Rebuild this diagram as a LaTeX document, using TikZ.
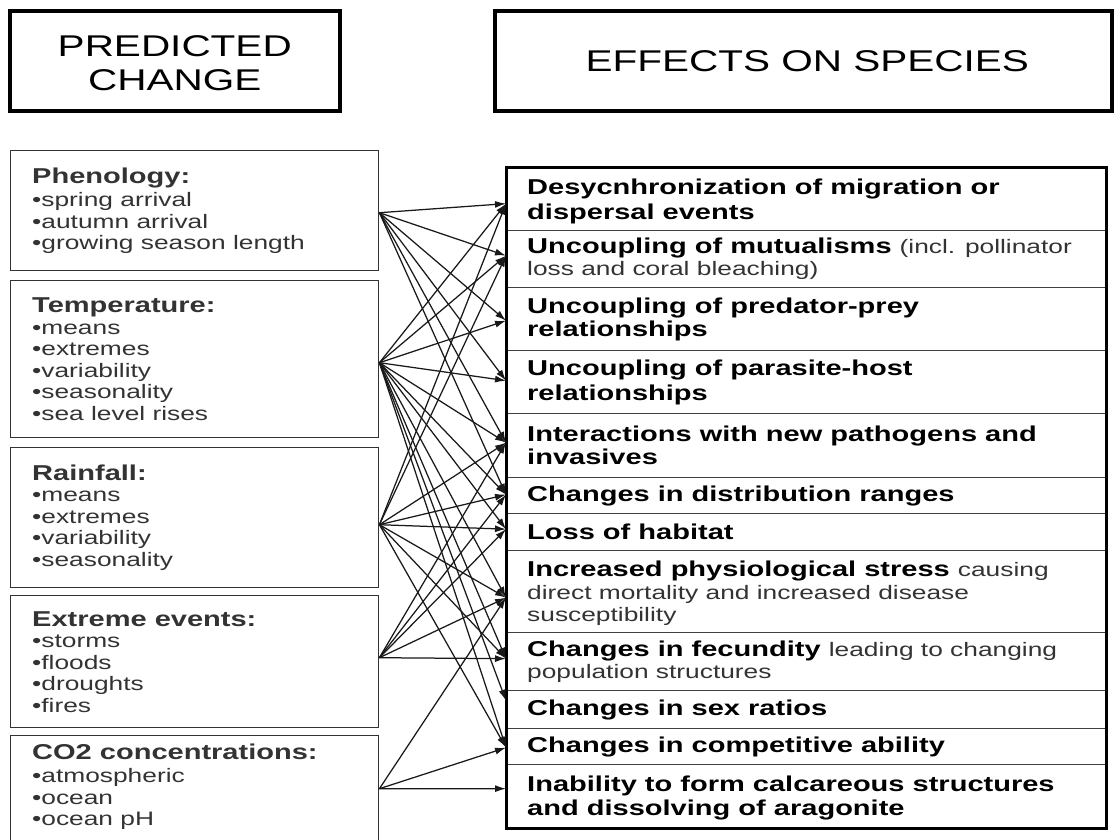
\documentclass[tikz,border=0pt]{standalone}
\usepackage{fontspec}
\setmainfont{Liberation Sans}[FakeStretch=1.35]
\usetikzlibrary{arrows.meta}
\newcommand{\hdfont}{\fontsize{30}{34}\selectfont}
\newcommand{\bfnt}[1]{\fontsize{21.5}{#1}\selectfont\bfseries}
\newcommand{\rgfnt}[1]{\fontsize{19.5}{#1}\selectfont\mdseries\color{black!80}}
\tikzset{
  hdbox/.style={draw=black, line width=3.5pt, anchor=north west, inner sep=0pt, font=\hdfont, align=center},
  lbox/.style={draw=black!80, line width=1.4pt, anchor=north west, inner sep=0pt, minimum width=368pt},
  rowbox/.style={draw=black!75, line width=1.3pt, anchor=north west, inner sep=0pt, minimum width=599pt},
  ltext/.style={anchor=west, inner sep=0pt, align=left, font={\rgfnt{21.5}}},
  rtext/.style={anchor=west, inner sep=0pt, align=left},
  conn/.style={draw=black!90, line width=1.25pt, -{Latex[length=11pt,width=7pt]}},
}
\begin{document}
\begin{tikzpicture}[x=1pt,y=-1pt]
\clip (0,0) rectangle (1114,839);
\fill[white] (0,0) rectangle (1114,839);

% headers
\node[hdbox, minimum width=330pt, minimum height=100pt] (hL) at (8,9) {};
\node[font=\hdfont, align=center, inner sep=0pt] (hLt) at ([yshift=-2pt]hL.center) {PREDICTED\\CHANGE};
\node[hdbox, minimum width=617pt, minimum height=100pt] (hR) at (493,9) {};
\node[font=\hdfont, inner sep=0pt] (hRt) at ([xshift=4pt]hR.center) {EFFECTS ON SPECIES};

% left boxes
\node[lbox, minimum height=120pt] (pP) at (10,150) {};
\node[lbox, minimum height=157pt] (pT) at (10,280) {};
\node[lbox, minimum height=140pt] (pR) at (10,447) {};
\node[lbox, minimum height=132pt] (pE) at (10,595) {};
\node[lbox, minimum height=110pt] (pC) at (10,735) {};

\node[ltext] (pPt) at ([xshift=22pt]pP.west) {{\bfnt{22}Phenology:}\\[2pt]•spring arrival\\•autumn arrival\\•growing season length};
\node[ltext] (pTt) at ([xshift=22pt]pT.west) {{\bfnt{22}Temperature:}\\•means\\•extremes\\•variability\\•seasonality\\•sea level rises};
\node[ltext] (pRt) at ([xshift=22pt]pR.west) {{\bfnt{22}Rainfall:}\\•means\\•extremes\\•variability\\•seasonality};
\node[ltext] (pEt) at ([xshift=22pt]pE.west) {{\bfnt{22}Extreme events:}\\•storms\\•floods\\•droughts\\•fires};
\node[ltext] (pCt) at ([xshift=22pt,yshift=4pt]pC.west) {{\bfnt{22}CO2 concentrations:}\\[2pt]•atmospheric\\•ocean\\•ocean pH};

% right rows
\node[rowbox, minimum height=63pt] (r1) at (506,167) {};
\node[rowbox, minimum height=57pt] (r2) at (506,230) {};
\node[rowbox, minimum height=63pt] (r3) at (506,287) {};
\node[rowbox, minimum height=63pt] (r4) at (506,350) {};
\node[rowbox, minimum height=64pt] (r5) at (506,413) {};
\node[rowbox, minimum height=36pt] (r6) at (506,477) {};
\node[rowbox, minimum height=37pt] (r7) at (506,513) {};
\node[rowbox, minimum height=82pt] (r8) at (506,550) {};
\node[rowbox, minimum height=58pt] (r9) at (506,632) {};
\node[rowbox, minimum height=38pt] (r10) at (506,690) {};
\node[rowbox, minimum height=36pt] (r11) at (506,728) {};
\node[rowbox, minimum height=63pt] (r12) at (506,764) {};
\draw[line width=3pt, black] (r1.north west) rectangle (r12.south east);

\node[rtext, font={\bfnt{25}}] (r1t) at ([xshift=21pt,yshift=-2pt]r1.west) {Desycnhronization of migration or\\dispersal events};
\node[rtext, font={\bfnt{22}}] (r2t) at ([xshift=21pt]r2.west) {Uncoupling of mutualisms {\rgfnt{22}(incl. pollinator}\\{\rgfnt{22}loss and coral bleaching)}};
\node[rtext, font={\bfnt{23}}] (r3t) at ([xshift=21pt]r3.west) {Uncoupling of predator-prey\\relationships};
\node[rtext, font={\bfnt{25}}] (r4t) at ([xshift=21pt]r4.west) {Uncoupling of parasite-host\\relationships};
\node[rtext, font={\bfnt{23}}] (r5t) at ([xshift=21pt]r5.west) {Interactions with new pathogens and\\invasives};
\node[rtext, font={\bfnt{22}}] (r6t) at ([xshift=21pt]r6.west) {Changes in distribution ranges};
\node[rtext, font={\bfnt{22}}] (r7t) at ([xshift=21pt]r7.west) {Loss of habitat};
\node[rtext, font={\bfnt{22.5}}] (r8t) at ([xshift=21pt,yshift=-2pt]r8.west) {Increased physiological stress {\rgfnt{22}causing}\\{\rgfnt{22}direct mortality and increased disease}\\{\rgfnt{22}susceptibility}};
\node[rtext, font={\bfnt{22}}] (r9t) at ([xshift=21pt]r9.west) {Changes in fecundity {\rgfnt{22}leading to changing}\\{\rgfnt{22}population structures}};
\node[rtext, font={\bfnt{22}}] (r10t) at ([xshift=21pt]r10.west) {Changes in sex ratios};
\node[rtext, font={\bfnt{22}}] (r11t) at ([xshift=21pt]r11.west) {Changes in competitive ability};
\node[rtext, font={\bfnt{24}}] (r12t) at ([xshift=21pt,yshift=-2pt]r12.west) {Inability to form calcareous structures\\and dissolving of aragonite};

% connector end points
\coordinate (sP) at ([yshift=-2pt]pP.east);
\coordinate (sT) at ([yshift=-3.5pt]pT.east);
\coordinate (sR) at ([yshift=-7pt]pR.east);
\coordinate (sE) at ([yshift=4pt]pE.east);
\coordinate (sC) at ([yshift=2pt]pC.east);
\coordinate (t1) at ([yshift=-4.5pt]r1.west);
\coordinate (t2) at ([yshift=3.5pt]r2.west);
\coordinate (t3) at ([yshift=-1.5pt]r3.west);
\coordinate (t4) at ([yshift=1.5pt]r4.west);
\coordinate (t5) at ([yshift=3pt]r5.west);
\coordinate (t6) at ([yshift=1pt]r6.west);
\coordinate (t7) at ([yshift=3pt]r7.west);
\coordinate (t8) at ([yshift=-6pt]r8.west);
\coordinate (t9) at ([yshift=3pt]r9.west);
\coordinate (t10) at ([yshift=9pt]r10.west);
\coordinate (t11) at ([yshift=-1pt]r11.west);
\coordinate (t12) at ([yshift=7.5pt]r12.west);

\foreach \t in {1,2,3,4,5,6} \draw[conn] (sP) -- (t\t);
\foreach \t in {1,2,3,4,5,6,7,8,9,10,11} \draw[conn] (sT) -- (t\t);
\foreach \t in {1,2,5,6,7,8,9,11} \draw[conn] (sR) -- (t\t);
\foreach \t in {5,6,7,8,9} \draw[conn] (sE) -- (t\t);
\foreach \t in {8,11,12} \draw[conn] (sC) -- (t\t);
\end{tikzpicture}
\end{document}
